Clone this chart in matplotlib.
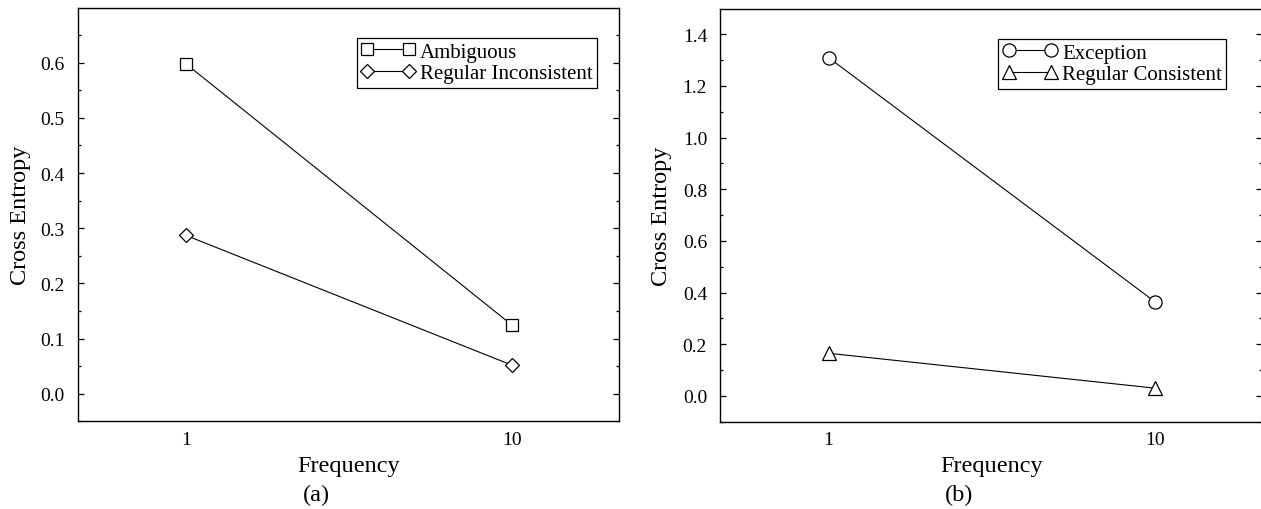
import matplotlib
matplotlib.use("Agg")
import matplotlib.pyplot as plt
from matplotlib.ticker import MultipleLocator, FormatStrFormatter

plt.rcParams['font.family'] = ['Liberation Serif', 'DejaVu Serif']

# ---- data ----
frequencies = ["1", "10"]
ambiguous = [0.598, 0.125]
regular_inconsistent = [0.287, 0.052]
exception = [1.31, 0.365]
regular_consistent = [0.165, 0.030]
xlabel_text = "Frequency"
ylabel_text = "Cross Entropy"
panel_labels = ["(a)", "(b)"]

W, H = 1261, 510
fig = plt.figure(figsize=(W / 100, H / 100), dpi=100)

def px_axes(x0, y_top, x1, y_bot):
    return [x0 / W, 1 - y_bot / H, (x1 - x0) / W, (y_bot - y_top) / H]

ax1 = fig.add_axes(px_axes(77.7, 9.3, 618.7, 422.3))
ax2 = fig.add_axes(px_axes(720.3, 10.3, 1262.0, 422.7))

xpos = list(range(len(frequencies)))
LABEL_FS = 17.5
TICK_FS = 14

def style_axes(ax, ylim, major, minor):
    ax.set_xlim(-0.332, 1.329)
    ax.set_ylim(*ylim)
    ax.set_xticks(xpos)
    ax.set_xticklabels(frequencies)
    ax.yaxis.set_major_locator(MultipleLocator(major))
    ax.yaxis.set_minor_locator(MultipleLocator(minor))
    ax.tick_params(axis='y', which='both', direction='in', left=True, right=True,
                   labelsize=TICK_FS, pad=9.5)
    ax.tick_params(axis='y', which='major', length=4.2, width=0.9)
    ax.tick_params(axis='y', which='minor', length=2.2, width=0.9)
    ax.tick_params(axis='x', which='both', length=0, labelsize=TICK_FS, pad=7)
    ax.yaxis.set_major_formatter(FormatStrFormatter('%.1f'))
    for s in ax.spines.values():
        s.set_linewidth(1.0)
    ax.set_ylabel(ylabel_text, fontsize=LABEL_FS)
    ax.text(0.5, -0.1196, xlabel_text, transform=ax.transAxes, ha='center',
            va='baseline', fontsize=LABEL_FS)

line_kw = dict(color='black', linewidth=0.8, markerfacecolor='white',
               markeredgecolor='black', markeredgewidth=0.9)

ax1.plot(xpos, ambiguous, marker='s', markersize=8.3, label='Ambiguous', **line_kw)
ax1.plot(xpos, regular_inconsistent, marker='D', markersize=7.5,
         label='Regular Inconsistent', **line_kw)
style_axes(ax1, (-0.05, 0.6985), 0.1, 0.05)
ax1.yaxis.set_label_coords(-0.0863, 0.5)

ax2.plot(xpos, exception, marker='o', markersize=9.5, label='Exception', **line_kw)
ax2.plot(xpos, regular_consistent, marker='^', markersize=10,
         label='Regular Consistent', **line_kw)
style_axes(ax2, (-0.1, 1.497), 0.2, 0.1)
ax2.yaxis.set_label_coords(-0.089, 0.5)

leg_kw = dict(loc='upper right', borderaxespad=0, fontsize=15, frameon=True,
              fancybox=False, framealpha=1, edgecolor='black', handlelength=2.6,
              handletextpad=0.25, labelspacing=0.1, borderpad=0.2, numpoints=2)
l1 = ax1.legend(bbox_to_anchor=(0.96, 0.928), **leg_kw)
l2 = ax2.legend(bbox_to_anchor=(0.9336, 0.928), **leg_kw)
for l in (l1, l2):
    l.get_frame().set_linewidth(0.9)

fig.text(316.8 / W, 1 - 501.5 / H, panel_labels[0], ha='center', va='baseline', fontsize=LABEL_FS)
fig.text(959 / W, 1 - 501.5 / H, panel_labels[1], ha='center', va='baseline', fontsize=LABEL_FS)

fig.savefig("out.png", dpi=100, facecolor='white')
